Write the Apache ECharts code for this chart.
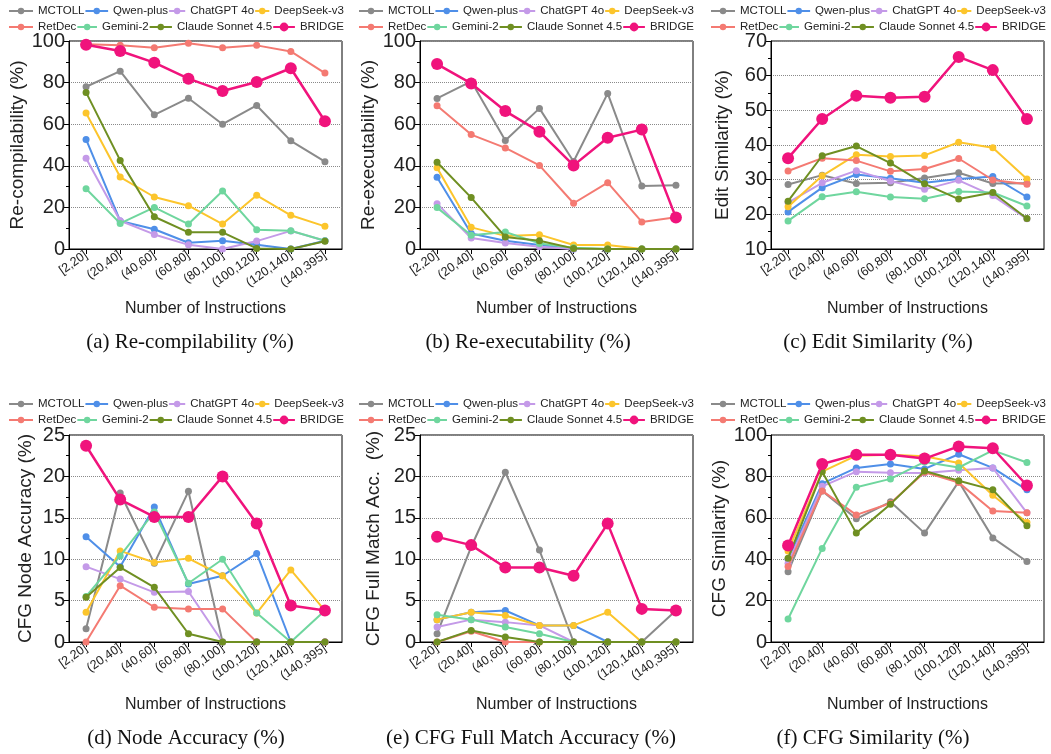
<!DOCTYPE html>
<html>
<head>
<meta charset="utf-8">
<script src="https://cdn.jsdelivr.net/npm/echarts@6/dist/echarts.min.js"></script>
<style>
html,body{margin:0;padding:0;background:#fff;}
#chart{width:1051px;height:754px;}
</style>
</head>
<body>
<div id="chart"></div>
<script>
// ---- DATA ----
const categories = ['[2,20]','(20,40]','(40,60]','(60,80]','(80,100]','(100,120]','(120,140]','(140,395]'];
const models = ['MCTOLL','Qwen-plus','ChatGPT 4o','DeepSeek-v3','RetDec','Gemini-2','Claude Sonnet 4.5','BRIDGE'];

// rows follow the order of `models`
const reCompilability = [
  [78, 85.5, 64.5, 72.5, 60, 69, 52, 42],
  [52.7, 13.5, 9.5, 3, 4, 2, 0, 4],
  [43.6, 13.6, 7, 2, 0, 3.8, 8.7, 4],
  [65.4, 34.6, 25, 20.8, 12, 25.8, 16.2, 10.9],
  [98.4, 97.9, 96.8, 98.9, 96.8, 97.9, 95, 84.6],
  [29, 12.3, 20, 12, 27.9, 9.3, 8.8, 4],
  [75.3, 42.6, 15.5, 8, 8, 0.3, 0, 3.7],
  [98.2, 95.2, 89.6, 81.9, 76, 80.3, 86.9, 61.4]
];
const reExecutability = [
  [72.4, 80.6, 52.2, 67.6, 42.1, 74.8, 30.3, 30.6],
  [34.5, 7.5, 4, 1.9, 0, 0, 0, 0],
  [21.8, 5.3, 2.9, 1.1, 0, 0, 0, 0],
  [39.1, 10.4, 6.3, 6.9, 1.9, 1.9, 0, 0],
  [68.9, 55, 48.6, 40.2, 22, 31.9, 13, 15.3],
  [19.9, 6.6, 8.2, 2.7, 0.6, 0, 0, 0],
  [41.7, 24.7, 5.8, 4, 0.3, 0, 0, 0],
  [88.9, 79.6, 66.3, 56.4, 40.2, 53.5, 57.4, 15.1]
];
const editSimilarity = [
  [28.6, 31.3, 28.9, 29.1, 30.5, 32, 28.9, 29],
  [20.7, 27.7, 31.5, 30.4, 29.1, 30.2, 30.9, 25],
  [23.4, 29.1, 32.6, 29.6, 27.2, 29.8, 25.4, 18.7],
  [22.2, 31.1, 37.2, 36.7, 37, 40.8, 39.2, 30.2],
  [32.5, 36.2, 35.5, 32.4, 33.1, 36.1, 29.9, 28.7],
  [18.1, 25.1, 26.5, 25, 24.5, 26.6, 26.3, 22.4],
  [23.8, 36.9, 39.7, 34.8, 28.8, 24.4, 26.3, 18.8],
  [36.2, 47.5, 54.2, 53.6, 53.9, 65.4, 61.6, 47.5]
];
const nodeAccuracy = [
  [1.6, 18, 9.5, 18.2, 0, 0, 0, 0],
  [12.7, 9.1, 16.3, 7, 8, 10.7, 0, 0],
  [9.1, 7.6, 6, 6.1, 0, 0, 0, 0],
  [3.6, 11, 9.6, 10.1, 8, 3.5, 8.7, 3.8],
  [0, 6.8, 4.2, 4, 4, 0, 0, 0],
  [5.5, 10.4, 15.7, 7.1, 10, 3.5, 0, 3.8],
  [5.4, 9, 6.6, 1, 0, 0, 0, 0],
  [23.7, 17.2, 15.1, 15.1, 20, 14.3, 4.4, 3.8]
];
const fullMatchAcc = [
  [1, 11.5, 20.5, 11.1, 0, 0, 0, 3.8],
  [2.7, 3.6, 3.8, 2, 2, 0, 0, 0],
  [1.8, 2.7, 2.4, 2, 0, 0, 0, 0],
  [2.7, 3.6, 3.2, 2, 2, 3.6, 0, 0],
  [0, 1.3, 0, 0, 0, 0, 0, 0],
  [3.3, 2.7, 1.8, 1, 0, 0, 0, 0],
  [0, 1.4, 0.6, 0, 0, 0, 0, 0],
  [12.7, 11.7, 9, 9, 8, 14.3, 4, 3.8]
];
const cfgSimilarity = [
  [33.9, 73, 59.5, 67.7, 52.6, 77.5, 50.3, 38.9],
  [40, 76.5, 84.1, 86, 83.6, 90.7, 84.1, 73.5],
  [38, 75.2, 82.3, 81.8, 81.7, 83, 84.1, 62.4],
  [44, 82.3, 90, 90.5, 89.7, 86.5, 70.9, 57.7],
  [36.5, 73, 61.4, 67, 82, 77, 63.3, 62.4],
  [11.1, 45.2, 74.8, 78.8, 87, 84.3, 92.6, 86.7],
  [40.5, 82.2, 52.6, 66.6, 82.6, 77.9, 73.5, 56.1],
  [46.6, 86, 90.5, 90.5, 88.6, 94.5, 93.6, 75.6]
];

const yAxisNames = ['Re-compilability (%)','Re-executability (%)','Edit Similarity (%)','CFG Node Accuracy (%)','CFG Full Match Acc.  (%)','CFG Similarity (%)'];
const captions = ['(a) Re-compilability (%)','(b) Re-executability (%)','(c) Edit Similarity (%)','(d) Node Accuracy (%)','(e) CFG Full Match Accuracy (%)','(f) CFG Similarity (%)'];
const xAxisName = 'Number of Instructions';

// ---- STYLE / LAYOUT ----
const colors = ['#8a8a8a','#4f8fe8','#c49ae8','#fcc52c','#f47a72','#6fd69e','#6f8f22','#f0137c'];
const panels = [reCompilability, reExecutability, editSimilarity, nodeAccuracy, fullMatchAcc, cfgSimilarity];
const yRange = [[0,100,20],[0,100,20],[10,70,10],[0,25,5],[0,25,5],[0,100,20]];
const gridPos = [
  {left:69, top:41, h:208, legX:8, legY:[5,21]},
  {left:420, top:41, h:208, legX:358, legY:[5,21]},
  {left:771, top:41, h:208, legX:710, legY:[5,21]},
  {left:69, top:435, h:207, legX:8, legY:[398,414]},
  {left:420, top:435, h:207, legX:358, legY:[398,414]},
  {left:771, top:435, h:207, legX:710, legY:[398,414]}
];
const nameGaps = [35, 39, 39, 34, 37, 37];
const capY = [342, 738];
const capX = [190, 528, 878, 186, 531, 873];
const sans = "'Liberation Sans', Arial, sans-serif";
const legFont = 11.5;
const legendSpan = 335;
const refTextStarts = [[29, 107, 187, 274], [29, 95, 172, 297]];

// measure legend text to lay out legend items like the reference
const mctx = document.createElement('canvas').getContext('2d');
mctx.font = legFont + 'px ' + sans;
function rowLayout(row) {
  const names = models.slice(row*4, row*4+4);
  const w = names.map(n => mctx.measureText(n).width);
  const starts = refTextStarts[row].slice();
  const over = starts[3] + w[3] - legendSpan;
  if (over > 0) for (let i = 1; i < 4; i++) starts[i] -= over * i / 3;
  return names.map((n, i) => {
    const iconStart = i === 0 ? 0 : starts[i-1] + w[i-1] + 1;
    return {name:n, iconStart, iconWidth: Math.max(10, starts[i] - 5 - iconStart)};
  });
}
const rows = [rowLayout(0), rowLayout(1)];

const grid = [], xAxis = [], yAxis = [], series = [], legend = [], graphic = [];
panels.forEach((data, p) => {
  const g = gridPos[p];
  grid.push({left:g.left, top:g.top, width:273, height:g.h, show:true, borderColor:'#000', borderWidth:1, backgroundColor:'transparent'});
  xAxis.push({
    type:'category', gridIndex:p, data:categories, boundaryGap:true,
    name:xAxisName, nameLocation:'middle', nameGap: p < 3 ? 52 : 55,
    nameTextStyle:{fontFamily:sans, fontSize:16, color:'#222'},
    axisLine:{show:true, lineStyle:{color:'#000', width:1}},
    axisTick:{show:true, alignWithLabel:true, length:5, lineStyle:{color:'#000'}},
    axisLabel:{interval:0, rotate:35, fontSize:12.5, fontFamily:sans, color:'#222', margin:5},
    splitLine:{show:false}
  });
  const r = yRange[p];
  yAxis.push({
    type:'value', gridIndex:p, min:r[0], max:r[1], interval:r[2],
    name:yAxisNames[p], nameLocation:'middle', nameGap:nameGaps[p],
    nameTextStyle:{fontFamily:sans, fontSize:19, color:'#222'},
    axisLine:{show:true, lineStyle:{color:'#000', width:1}},
    axisTick:{show:true, length:6, lineStyle:{color:'#000'}},
    minorTick:{show:true, splitNumber:2, length:3, lineStyle:{color:'#000'}},
    splitLine:{show:true, lineStyle:{type:'dotted', color:'#8a8a8a', width:1}},
    axisLabel:{fontSize:20, fontFamily:sans, color:'#222', margin:4}
  });
  data.forEach((vals, i) => {
    const isB = models[i] === 'BRIDGE';
    series.push({
      type:'line', name:models[i], xAxisIndex:p, yAxisIndex:p, data:vals,
      symbol:'circle', symbolSize: isB ? 12 : 7,
      lineStyle:{color:colors[i], width: isB ? 2.5 : 2},
      itemStyle:{color:colors[i]},
      z: 2 + i, emphasis:{disabled:true}, animation:false
    });
  });
  rows.forEach((items, row) => {
    items.forEach(it => {
      const isB = it.name === 'BRIDGE';
      legend.push({
        left: g.legX + it.iconStart, top: g.legY[row], padding:0,
        data:[it.name], itemWidth: it.iconWidth, itemHeight: isB ? 11 : 8, itemGap:0,
        textStyle:{fontFamily:sans, fontSize:legFont, color:'#222'},
        selectedMode:false
      });
    });
  });
  graphic.push({type:'text', x:capX[p], y:capY[p < 3 ? 0 : 1],
    style:{text:captions[p], fill:'#111', font:"21px 'Liberation Serif', 'Times New Roman', serif", align:'center', verticalAlign:'middle'}});
});

const chart = echarts.init(document.getElementById('chart'), null, {renderer:'canvas'});
chart.setOption({backgroundColor:'#fff', animation:false, grid, xAxis, yAxis, series, legend, graphic, tooltip:{show:false}});
</script>
</body>
</html>
